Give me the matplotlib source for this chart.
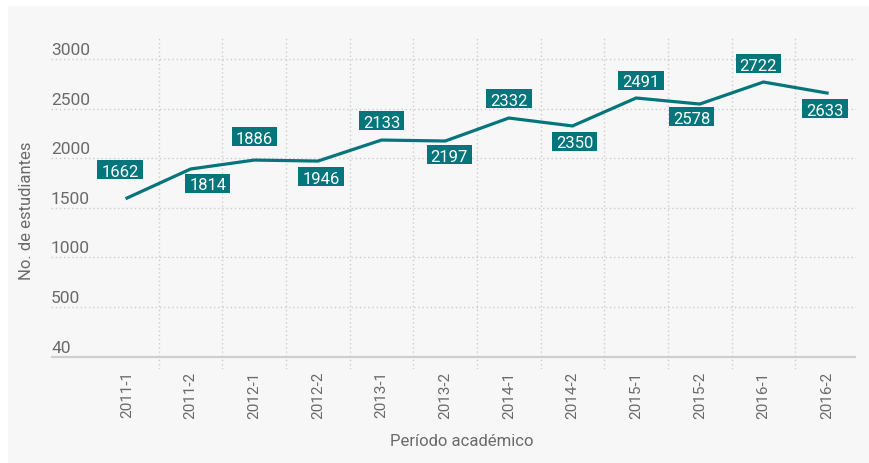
import matplotlib
matplotlib.use('Agg')
import matplotlib.pyplot as plt
from matplotlib.path import Path
from matplotlib.patches import Rectangle
import matplotlib.transforms as mtransforms

# ---- data ----
periods = ['2011-1', '2011-2', '2012-1', '2012-2', '2013-1', '2013-2',
           '2014-1', '2014-2', '2015-1', '2015-2', '2016-1', '2016-2']
students = [1598, 1891, 1981, 1971, 2183, 2173, 2405, 2325, 2607, 2546, 2768, 2657]
point_labels = ['1662', '1814', '1886', '1946', '2133', '2197',
                '2332', '2350', '2491', '2578', '2722', '2633']
y_ticks = [0, 500, 1000, 1500, 2000, 2500, 3000]
y_tick_labels = ['40', '500', '1000', '1500', '2000', '2500', '3000']

# label placement (pixel offsets from point), layout only
label_offsets = [(-7, 27), (17, -16), (0, 22), (3, -17), (0, 18), (4, -15),
                 (0, 18), (2, -17), (5, 16), (-8, -14), (-5, 17), (-2, -17)]

TEAL = '#04757b'
GRAY_TXT = '#6a6a6a'
GRID = '#cccccc'
FONT = ['Roboto', 'DejaVu Sans']
plt.rcParams['font.family'] = FONT

W, H = 869, 464
fig = plt.figure(figsize=(W / 100, H / 100), dpi=100, facecolor='white')
bg = Rectangle((8 / W, 0), 1 - 8 / W, 1 - 7 / H, transform=fig.transFigure,
               facecolor='#f7f7f7', edgecolor='none', zorder=-10)
fig.patches.append(bg)

ax = fig.add_axes([51 / W, (H - 370) / H, 805 / W, 331 / H])
ax.patch.set_visible(False)
for s in ax.spines.values():
    s.set_visible(False)

x = list(range(len(periods)))
ax.set_xlim(-1.194, 11.455)
ax.set_ylim(-126, 3212)

# horizontal grid lines
for t in y_ticks[1:]:
    ax.axhline(t, color=GRID, lw=1, ls=(0, (1, 2)), zorder=1)
ax.axhline(0, color='#cfcfcf', lw=1.6, zorder=2)

# vertical separators between categories
ax.vlines([i + 0.5 for i in x[:-1]], 0, 1, transform=ax.get_xaxis_transform(),
          color=GRID, lw=1, ls=(0, (1, 2)), zorder=1)

# y tick labels above grid lines
ax.set_yticks([])
ytrans = mtransforms.blended_transform_factory(ax.transAxes, ax.transData)
ytrans = ytrans + mtransforms.ScaledTranslation(0, 3.5 / 72, fig.dpi_scale_trans)
for t, lab in zip(y_ticks, y_tick_labels):
    ax.text(0.0, t, lab, transform=ytrans, ha='left', va='baseline',
            fontsize=12.5, color=GRAY_TXT)

# x ticks
ax.set_xticks(x)
ax.set_xticklabels(periods, rotation=90, fontsize=11, color=GRAY_TXT)
ax.tick_params(axis='x', length=0, pad=1)

# line
ax.plot(x, students, color=TEAL, lw=2.3, solid_joinstyle='miter', zorder=3)


def label_box(x0, y0, width, height, mutation_size):
    px, half = 4, 9.5
    cy = y0 + 0.21 * mutation_size + 0.355 * mutation_size
    xs0, xs1 = x0 - px, x0 + width + px
    ys0, ys1 = cy - half, cy + half
    return Path([(xs0, ys0), (xs1, ys0), (xs1, ys1), (xs0, ys1), (xs0, ys0)],
                [Path.MOVETO, Path.LINETO, Path.LINETO, Path.LINETO, Path.CLOSEPOLY])


for i, (v, lab, off) in enumerate(zip(students, point_labels, label_offsets)):
    ax.annotate(lab, (i, v), xytext=off, textcoords='offset pixels',
                ha='center', va='center', fontsize=12, color='white',
                bbox=dict(boxstyle=label_box, facecolor=TEAL, edgecolor='none'),
                zorder=4)

fig.text(27 / W, 1 - 211 / H, 'No. de estudiantes', rotation=90, ha='center', va='center',
         fontsize=12, color=GRAY_TXT)
fig.text(462 / W, 1 - 441 / H, 'Período académico', ha='center', va='center',
         fontsize=12, color=GRAY_TXT)

fig.savefig('out.png', dpi=100, facecolor='white')
